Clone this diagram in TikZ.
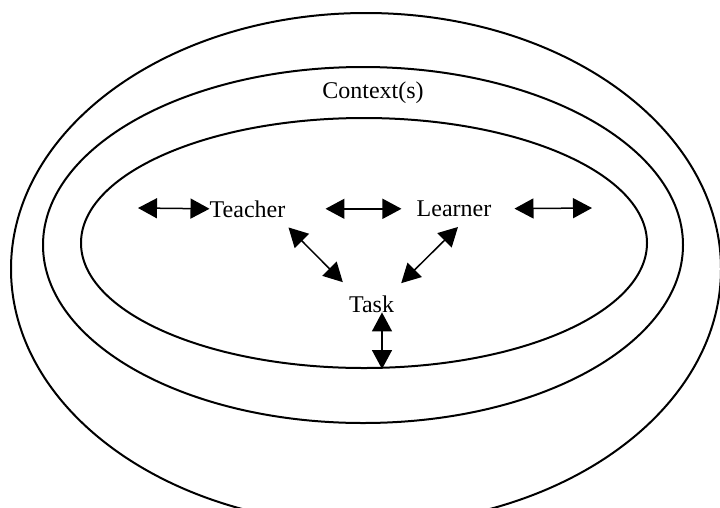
\documentclass[tikz,border=0pt]{standalone}
\usepackage{fontspec}
\setmainfont{Liberation Serif}
\usetikzlibrary{shapes.geometric, arrows.meta, positioning}
\tikzset{
   ring/.style={
     draw=black, ellipse, line width=2pt, inner sep=0pt
   },
   word/.style={
     inner sep=0pt, font=\fontsize{24}{28}\selectfont
   },
   link/.style={
     arrows={Triangle[length=19pt,width=20pt]-Triangle[length=19pt,width=20pt]},
     line width=1.5pt
   }
}
\begin{document}
\begin{tikzpicture}[x=1pt, y=-1pt]
      \useasboundingbox (0,0) rectangle (720,507);
      \node[ring, minimum width=710pt, minimum height=512pt](outer) at (366,269) {};
      \node[ring, minimum width=640pt, minimum height=356pt](middle) at (363,245) {};
      \node[ring, minimum width=566pt, minimum height=250pt](inner) at (364,243) {};

      \node[word, anchor=base](context) at (373,98) {Context(s)};
      \node[word, anchor=base](teacher) at (247.5,217) {Teacher};
      \node[word](learner) [right = 131pt of teacher] {Learner};
      \node[word, anchor=base](task) at (371.5,312) {Task};

      \coordinate (leftend) at (138,208);
      \coordinate (rightend) at (592,208);

      \draw[link] (leftend) -- (teacher.west);
      \draw[link, shorten <=40pt, shorten >=15pt] (teacher.east) -- (learner.west);
      \draw[link, shorten <=23pt] (learner.east) -- (rightend);

      \draw[link] ([shift={(3pt,-10pt)}]teacher.south east) -- ([shift={(-6pt,13pt)}]task.north west);
      \draw[link] ([shift={(4pt,-10pt)}]learner.south) -- ([shift={(7pt,12pt)}]task.north east);
      \draw[link] ([xshift=10.5pt]task.south) -- ([xshift=18pt]inner.south);
\end{tikzpicture}
\end{document}
